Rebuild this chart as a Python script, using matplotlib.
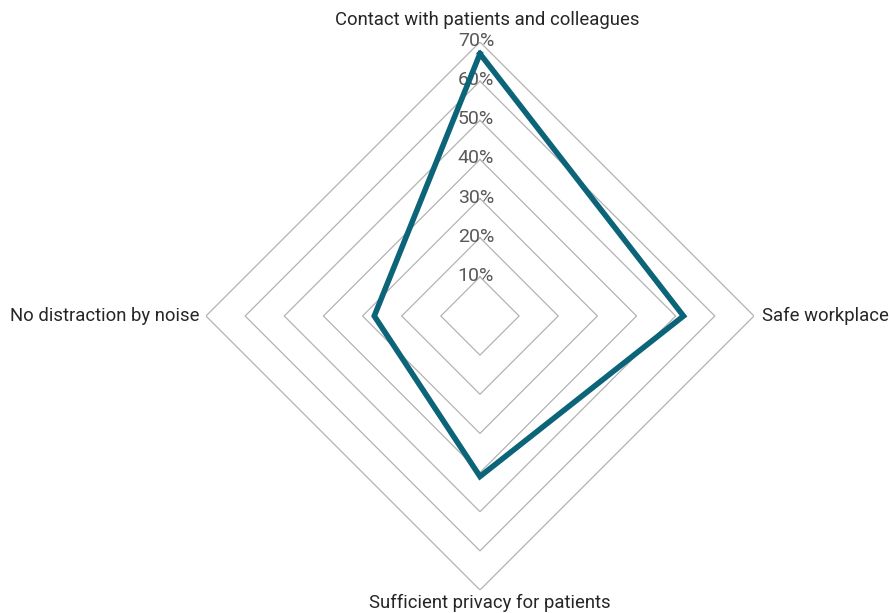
import numpy as np
import matplotlib.pyplot as plt

# radar chart: share of respondents per workplace aspect
categories = ['Contact with patients and colleagues', 'Safe workplace',
              'Sufficient privacy for patients', 'No distraction by noise']
values = [0.67, 0.52, 0.41, 0.27]
levels = [0.1, 0.2, 0.3, 0.4, 0.5, 0.6, 0.7]
level_labels = ['10%', '20%', '30%', '40%', '50%', '60%', '70%']

plt.rcParams['font.family'] = ['Roboto', 'DejaVu Sans']

fig = plt.figure(figsize=(8.89, 6.13), dpi=100)
ax = fig.add_axes([0.2317, 0.0375, 0.6164, 0.894], projection='polar')
ax.set_theta_zero_location('N')
ax.set_theta_direction(-1)

angles = np.linspace(0, 2 * np.pi, len(categories), endpoint=False)
closed = np.append(angles, angles[0])

# diamond gridlines
for lv in levels:
    ax.plot(closed, [lv] * len(closed), color='#b3b3b3', lw=0.9, zorder=1)

vals = values + values[:1]
ax.plot(closed, vals, color='#0b6478', lw=4, solid_joinstyle='miter', zorder=3)

ax.set_ylim(0, 0.7)
ax.grid(False)
ax.spines['polar'].set_visible(False)
ax.set_xticks([])
ax.set_yticks([])
ax.patch.set_visible(False)

# level labels
for lv, lab in zip(levels, level_labels):
    ax.annotate(lab, (0, lv), xytext=(-4, 1), textcoords='offset pixels',
                ha='center', va='center', fontsize=14, color='#595959', zorder=2)

# category labels
offsets = [((7, 22), 'center', 'center'), ((8, 0), 'left', 'center'),
           ((10, -13), 'center', 'center'), ((-6, 0), 'right', 'center')]
for ang, cat, (off, ha, va) in zip(angles, categories, offsets):
    ax.annotate(cat, (ang, 0.7), xytext=off, textcoords='offset pixels',
                ha=ha, va=va, fontsize=13.3, color='#262626', annotation_clip=False)

fig.savefig('out.png', dpi=100)
